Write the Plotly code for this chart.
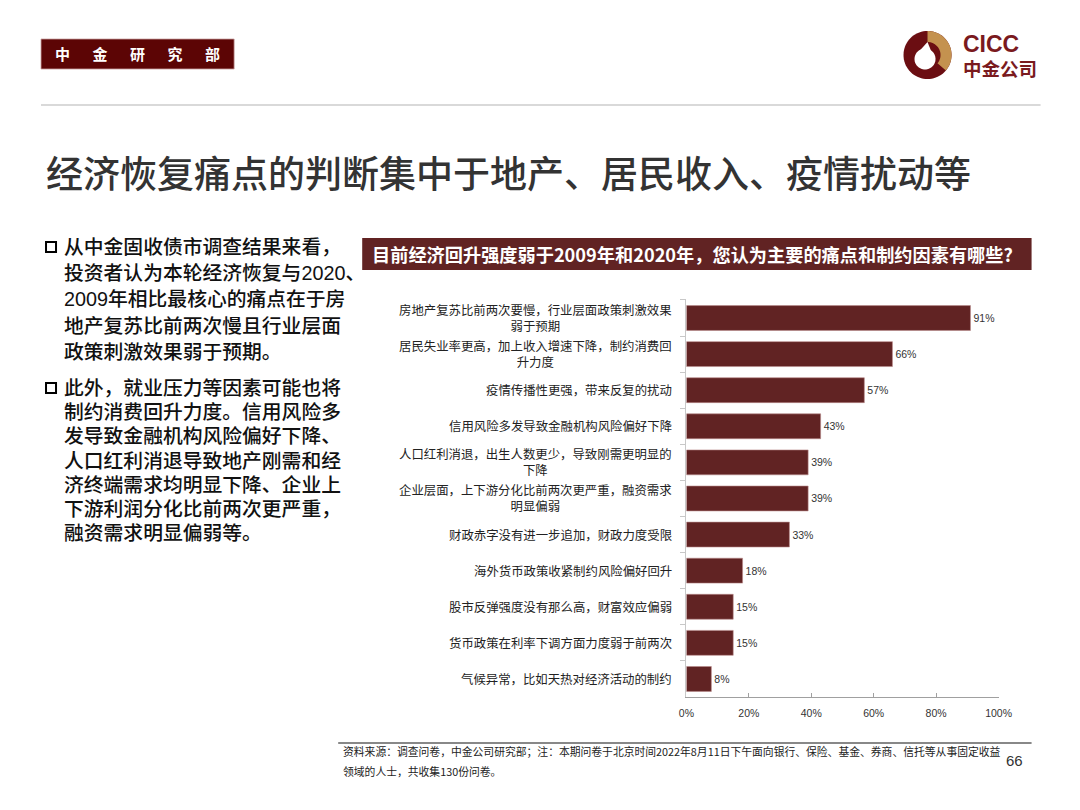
import math
import plotly.graph_objects as go

W, H = 1080, 810

# ---------------- data ----------------
categories = [
    "房地产复苏比前两次要慢，行业层面政策刺激效果<br>弱于预期",
    "居民失业率更高，加上收入增速下降，制约消费回<br>升力度",
    "疫情传播性更强，带来反复的扰动",
    "信用风险多发导致金融机构风险偏好下降",
    "人口红利消退，出生人数更少，导致刚需更明显的<br>下降",
    "企业层面，上下游分化比前两次更严重，融资需求<br>明显偏弱",
    "财政赤字没有进一步追加，财政力度受限",
    "海外货币政策收紧制约风险偏好回升",
    "股市反弹强度没有那么高，财富效应偏弱",
    "货币政策在利率下调方面力度弱于前两次",
    "气候异常，比如天热对经济活动的制约",
]
values = [91, 66, 57, 43, 39, 39, 33, 18, 15, 15, 8]
x_ticks = [0, 20, 40, 60, 80, 100]
x_ticktext = ["0%", "20%", "40%", "60%", "80%", "100%"]

header_text = "中\u3000\u2002金\u3000\u2002研\u3000\u2002究\u3000\u2002部"
main_title = "经济恢复痛点的判断集中于地产、居民收入、疫情扰动等"
chart_title = "目前经济回升强度弱于2009年和2020年，您认为主要的痛点和制约因素有哪些?"
para1 = [
    "从中金固收债市调查结果来看，",
    "投资者认为本轮经济恢复与2020、",
    "2009年相比最核心的痛点在于房",
    "地产复苏比前两次慢且行业层面",
    "政策刺激效果弱于预期。",
]
para2 = [
    "此外，就业压力等因素可能也将",
    "制约消费回升力度。信用风险多",
    "发导致金融机构风险偏好下降、",
    "人口红利消退导致地产刚需和经",
    "济终端需求均明显下降、企业上",
    "下游利润分化比前两次更严重，",
    "融资需求明显偏弱等。",
]
footnote1 = "资料来源：调查问卷，中金公司研究部；注：本期问卷于北京时间2022年8月11日下午面向银行、保险、基金、券商、信托等从事固定收益"
footnote2 = "领域的人士，共收集130份问卷。"
page_no = "66"

CJK = "Noto Sans CJK SC"
SANS = "Liberation Sans, Noto Sans CJK SC"
BAR = "#612323"
DARK = "#5C0505"

# horizontal compensation for the capture (observed x' = 8 + 0.98 x)
KX, OX = 0.98, 8.0


def fx(x):
    return (x - OX) / KX


def px(x):
    return fx(x) / W


def py(y):
    return 1 - y / H


fig = go.Figure()
fig.add_trace(go.Bar(
    y=categories, x=values, orientation="h",
    marker=dict(color=BAR, line=dict(color="#b88a8a", width=0.6)),
    text=[f"{v}%" for v in values], textposition="outside",
    textfont=dict(family=SANS, size=10.5, color="#333333"),
    cliponaxis=False, hoverinfo="skip",
))

shapes = []
annotations = []

# header box
shapes.append(dict(type="rect", xref="paper", yref="paper",
                   x0=px(41), x1=px(234), y0=py(69), y1=py(39),
                   fillcolor=DARK, line=dict(color="#c9a0a0", width=0.8)))
annotations.append(dict(xref="paper", yref="paper", x=px(137.5), y=py(54),
                        text=f"<b>{header_text}</b>", showarrow=False,
                        font=dict(family=CJK, size=15, color="white"),
                        xanchor="center", yanchor="middle"))
# header separator line
shapes.append(dict(type="line", xref="paper", yref="paper",
                   x0=px(41), x1=px(1040), y0=py(105), y1=py(105),
                   line=dict(color="#cccccc", width=1.5)))

# logo (pixel coordinates converted to paper)
cx, cy, R = 927, 55, 24


def circle_pts(cx, cy, r, a0, a1, n=40):
    pts = []
    for i in range(n + 1):
        a = math.radians(a0 + (a1 - a0) * i / n)
        pts.append((cx + r * math.cos(a), cy - r * math.sin(a)))
    return pts


def path_from(pts):
    return "M " + " L ".join(f"{px(x):.5f},{py(y):.5f}" for x, y in pts) + " Z"


shapes.append(dict(type="path", xref="paper", yref="paper",
                   path=path_from(circle_pts(cx, cy, R, 0, 360, 72)),
                   fillcolor="#6B0E12", line=dict(width=0)))
gold = circle_pts(cx, cy, R, 90, -40) + circle_pts(cx, cy, 13, -40, 90)
shapes.append(dict(type="path", xref="paper", yref="paper",
                   path=path_from(gold), fillcolor="#C4924F", line=dict(width=0)))
white = circle_pts(924.5, 59, 10.5, 0, 360, 60)
shapes.append(dict(type="path", xref="paper", yref="paper",
                   path=path_from(white), fillcolor="white", line=dict(width=0)))
shapes.append(dict(type="path", xref="paper", yref="paper",
                   path=path_from([(918, 52), (927, 42), (931, 52)]),
                   fillcolor="white", line=dict(width=0)))
annotations.append(dict(xref="paper", yref="paper", x=px(960), y=py(44),
                        text="<b>CICC</b>", showarrow=False,
                        font=dict(family="Liberation Sans", size=23, color="#7A1A1E"),
                        xanchor="left", yanchor="middle"))
annotations.append(dict(xref="paper", yref="paper", x=px(960), y=py(68),
                        text="<b>中金公司</b>", showarrow=False,
                        font=dict(family=CJK, size=18.5, color="#7A1A1E"),
                        xanchor="left", yanchor="middle"))

# main title
annotations.append(dict(xref="paper", yref="paper", x=px(44), y=py(172),
                        text=main_title, showarrow=False,
                        font=dict(family=CJK, size=37, color="#333333", weight=500),
                        xanchor="left", yanchor="middle"))


# left paragraphs
def add_para(lines, y0, dy):
    shapes.append(dict(type="rect", xref="paper", yref="paper",
                       x0=px(46), x1=px(56), y0=py(y0 + 5), y1=py(y0 - 5),
                       fillcolor="rgba(0,0,0,0)", line=dict(color="black", width=2)))
    for i, t in enumerate(lines):
        annotations.append(dict(xref="paper", yref="paper", x=px(62), y=py(y0 + i * dy),
                                text=t, showarrow=False,
                                font=dict(family=SANS, size=19.8, color="#111111", weight=500),
                                xanchor="left", yanchor="middle"))


add_para(para1, 247, 26.2)
add_para(para2, 388, 24.2)

# chart title bar
shapes.append(dict(type="rect", xref="paper", yref="paper",
                   x0=px(362), x1=px(1031), y0=py(270), y1=py(238),
                   fillcolor=BAR, line=dict(width=0)))
annotations.append(dict(xref="paper", yref="paper", x=px(370), y=py(254),
                        text=f"<b>{chart_title}</b>", showarrow=False,
                        font=dict(family=CJK, size=18.2, color="white"),
                        xanchor="left", yanchor="middle"))

# category labels (right aligned block, centered lines)
for c in categories:
    annotations.append(dict(xref="x domain", yref="y", x=0, y=c, xshift=-12 / KX,
                            text=c, showarrow=False, align="center",
                            font=dict(family=CJK, size=12.4, color="#222222"),
                            xanchor="right", yanchor="middle"))

# footer
shapes.append(dict(type="line", xref="paper", yref="paper",
                   x0=px(338), x1=px(1031), y0=py(743), y1=py(743),
                   line=dict(color="#888888", width=2)))
annotations.append(dict(xref="paper", yref="paper", x=px(341), y=py(751),
                        text=footnote1, showarrow=False,
                        font=dict(family=CJK, size=10.8, color="#222222"),
                        xanchor="left", yanchor="middle"))
annotations.append(dict(xref="paper", yref="paper", x=px(341), y=py(771),
                        text=footnote2, showarrow=False,
                        font=dict(family=CJK, size=10.8, color="#222222"),
                        xanchor="left", yanchor="middle"))
annotations.append(dict(xref="paper", yref="paper", x=px(1003), y=py(760),
                        text=page_no, showarrow=False,
                        font=dict(family="Liberation Sans Narrow, Liberation Sans", size=15, color="#333333"),
                        xanchor="left", yanchor="middle"))

fig.update_layout(
    width=W, height=H, autosize=False,
    margin=dict(l=0, r=0, t=0, b=0),
    paper_bgcolor="white", plot_bgcolor="white",
    showlegend=False, bargap=0.31,
    shapes=shapes, annotations=annotations,
    xaxis=dict(domain=[px(686), px(998)], range=[0, 100], tickvals=x_ticks,
               ticktext=x_ticktext, showgrid=False, zeroline=False,
               showline=True, linecolor="#a0a0a0", linewidth=1,
               ticks="inside", ticklen=4, tickcolor="#a0a0a0",
               ticklabelstandoff=6,
               tickfont=dict(family=SANS, size=10.5, color="#333333"),
               anchor="y", fixedrange=True),
    yaxis=dict(domain=[py(697), py(299)], categoryorder="array",
               categoryarray=categories, autorange="reversed",
               showticklabels=False, showgrid=False, zeroline=False,
               showline=True, linecolor="#c8c8c8", linewidth=1,
               ticks="outside", tickson="boundaries", ticklen=5,
               tickcolor="#c8c8c8", anchor="x", fixedrange=True),
)

fig.write_html("out.html", config={"displayModeBar": False},
               post_script="document.body.style.margin='0';document.body.style.overflow='hidden';")
